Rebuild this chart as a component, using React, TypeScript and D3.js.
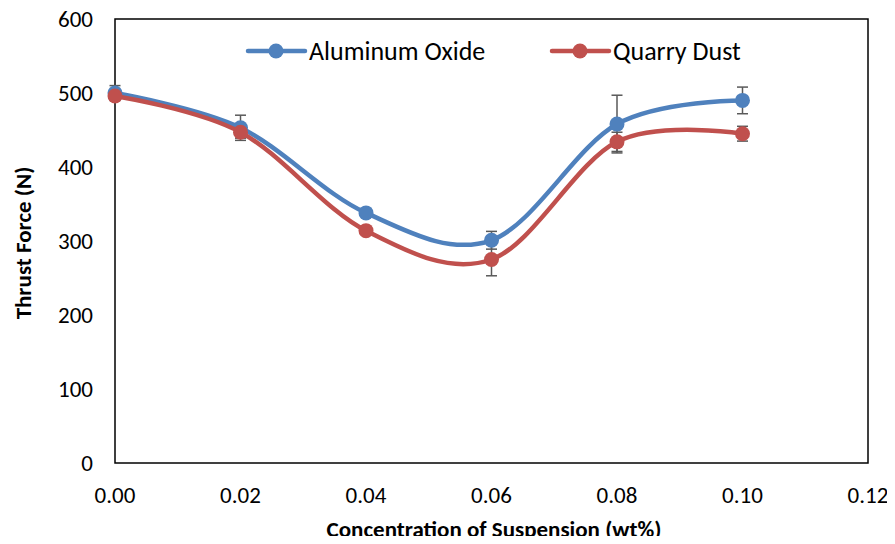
import React from "react";
import * as d3 from "d3";

const concentration = [0, 0.02, 0.04, 0.06, 0.08, 0.1];
const aluminumOxide = [500, 453, 338, 301, 458, 490];
const aluminumErr = [10, 17, 5, 12, 39, 18];
const quarryDust = [496, 447, 314, 275, 434, 445];
const quarryErr = [5, 8, 5, 22, 13, 10];
const xTicks = [0, 0.02, 0.04, 0.06, 0.08, 0.1, 0.12];
const yTicks = [0, 100, 200, 300, 400, 500, 600];

const series = [
  { name: "Aluminum Oxide", values: aluminumOxide, err: aluminumErr, color: "#4F81BD" },
  { name: "Quarry Dust", values: quarryDust, err: quarryErr, color: "#C0504D" },
];

const App = () => {
  const left = 115, right = 868, top = 19, bottom = 463;
  const x = d3.scaleLinear().domain([0, 0.12]).range([left, right]);
  const y = d3.scaleLinear().domain([0, 600]).range([bottom, top]);
  const line = d3
    .line<number>()
    .x((d, i) => x(concentration[i]))
    .y((d) => y(d))
    .curve(d3.curveCatmullRom.alpha(0));
  const font = "Carlito, Lato, 'Open Sans', sans-serif";

  return (
    <svg width={895} height={544} style={{ display: "block", margin: "-8px", fontFamily: font }}>
      <rect x={left} y={top} width={right - left} height={bottom - top} fill="none" stroke="#000" strokeWidth={1.5} />

      {yTicks.map((t) => (
        <text key={t} x={93} y={y(t) + 8} textAnchor="end" fontSize={23} fill="#000">
          {t}
        </text>
      ))}
      {xTicks.map((t) => (
        <text key={t} x={x(t)} y={503} textAnchor="middle" fontSize={23} fill="#000">
          {d3.format(".2f")(t)}
        </text>
      ))}

      <text transform={`translate(31,243) rotate(-90)`} textAnchor="middle" fontSize={23} fontWeight="bold">
        Thrust Force (N)
      </text>
      <text x={494} y={537} textAnchor="middle" fontSize={23} fontWeight="bold">
        Concentration of Suspension (wt%)
      </text>

      {series.map((s) => (
        <g key={s.name}>
          {s.values.map((v, i) => {
            const cx = x(concentration[i]);
            return (
              <g key={i} stroke="#595959" strokeWidth={1.5}>
                <line x1={cx} x2={cx} y1={y(v - s.err[i])} y2={y(v + s.err[i])} />
                <line x1={cx - 5.5} x2={cx + 5.5} y1={y(v - s.err[i])} y2={y(v - s.err[i])} />
                <line x1={cx - 5.5} x2={cx + 5.5} y1={y(v + s.err[i])} y2={y(v + s.err[i])} />
              </g>
            );
          })}
        </g>
      ))}

      {series.map((s) => (
        <g key={s.name}>
          <path d={line(s.values) || ""} fill="none" stroke={s.color} strokeWidth={4.5} strokeLinecap="round" />
          {s.values.map((v, i) => (
            <circle key={i} cx={x(concentration[i])} cy={y(v)} r={7.5} fill={s.color} />
          ))}
        </g>
      ))}

      {series.map((s, k) => {
        const lx = k === 0 ? 248 : 552;
        return (
          <g key={s.name}>
            <line x1={lx} x2={lx + 57} y1={51} y2={51} stroke={s.color} strokeWidth={4.5} strokeLinecap="round" />
            <circle cx={lx + 28} cy={51} r={7.5} fill={s.color} />
            <text x={lx + 61} y={60} fontSize={26} fill="#000">
              {s.name}
            </text>
          </g>
        );
      })}
    </svg>
  );
};

export default App;
